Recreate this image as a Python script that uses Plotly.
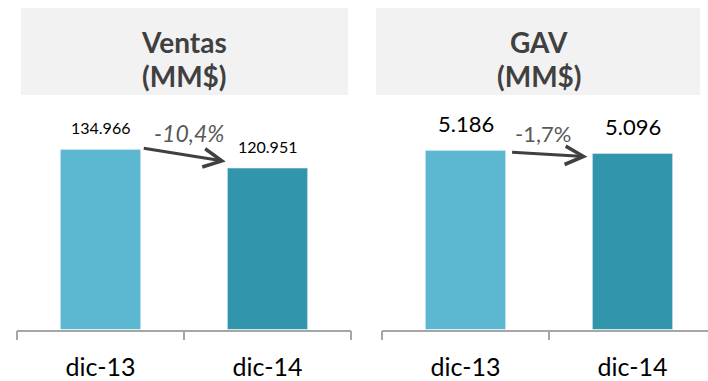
import plotly.graph_objects as go

W, H = 708, 381
categories = ["dic-13", "dic-14"]
ventas = [134.966, 120.951]
gav = [5.186, 5.096]
ventas_labels = ["134.966", "120.951"]
gav_labels = ["5.186", "5.096"]
ventas_change = "-10,4%"
gav_change = "-1,7%"
titles = ["Ventas", "GAV"]
subtitle = "(MM$)"

c_light = "#5BB8D0"
c_dark = "#3196AC"
FONT = "Lato"

def px(x):
    return x / W

def py(y):
    return 1 - y / H

fig = go.Figure()
fig.add_trace(go.Bar(x=categories, y=ventas, marker_color=[c_light, c_dark], width=0.48,
                     xaxis="x", yaxis="y", hoverinfo="skip"))
fig.add_trace(go.Bar(x=categories, y=gav, marker_color=[c_light, c_dark], width=0.48,
                     xaxis="x2", yaxis="y2", hoverinfo="skip"))

ydom = [py(333), py(100)]
axis_common = dict(showline=True, linecolor="#A6A6A6", linewidth=1.5, ticks="outside",
                   tickson="boundaries", ticklen=9, tickcolor="#A6A6A6", tickwidth=1.5,
                   ticklabelstandoff=15,
                   tickfont=dict(family=FONT, size=25, color="#000000"), showgrid=False,
                   zeroline=False, fixedrange=True)
fig.update_layout(
    width=W, height=H, margin=dict(l=0, r=0, t=0, b=0),
    paper_bgcolor="white", plot_bgcolor="white", showlegend=False,
    xaxis=dict(domain=[px(17), px(351)], range=[-0.5, 1.5], anchor="y", **axis_common),
    yaxis=dict(domain=ydom, range=[0, (333 - 100) / 1.3485], visible=False, anchor="x"),
    xaxis2=dict(domain=[px(382), 1], range=[-0.5, -0.5 + 326 / 167], anchor="y2", **axis_common),
    yaxis2=dict(domain=ydom, range=[0, (333 - 100) / 34.9], visible=False, anchor="x2"),
)

# Title boxes
for x0, x1 in [(21, 348), (376, 700)]:
    fig.add_shape(type="rect", xref="paper", yref="paper", x0=px(x0), x1=px(x1),
                  y0=py(96), y1=py(8), fillcolor="#F2F2F2", line_width=0, layer="below")

for t, cx in zip(titles, [184, 539]):
    fig.add_annotation(xref="paper", yref="paper", x=px(cx), y=py(42), text="<b>%s</b>" % t,
                       showarrow=False, font=dict(family=FONT, size=28, color="#404040"),
                       xanchor="center", yanchor="middle")
    fig.add_annotation(xref="paper", yref="paper", x=px(cx), y=py(77), text="<b>%s</b>" % subtitle,
                       showarrow=False, font=dict(family=FONT, size=28, color="#404040"),
                       xanchor="center", yanchor="middle")

# Value labels
for i, (v, lab) in enumerate(zip(ventas, ventas_labels)):
    fig.add_annotation(xref="x", yref="y", x=i, y=v, text=lab, showarrow=False,
                       font=dict(family=FONT, size=16, color="#000000"),
                       yanchor="middle", yshift=22)
for i, (v, lab) in enumerate(zip(gav, gav_labels)):
    fig.add_annotation(xref="x2", yref="y2", x=i, y=v, text=lab, showarrow=False,
                       font=dict(family=FONT, size=22, color="#000000"),
                       yanchor="middle", yshift=27)

# Arrows
fig.add_annotation(xref="x", yref="y", axref="x", ayref="y",
                   x=0.75, y=ventas[1] + 5, ax=0.25, ay=ventas[0] + 1,
                   showarrow=True, arrowhead=5, arrowsize=1.2, arrowwidth=3,
                   arrowcolor="#404040", text="")
fig.add_annotation(xref="x2", yref="y2", axref="x2", ayref="y2",
                   x=0.73, y=gav[1] - 0.09, ax=0.27, ay=gav[0] - 0.05,
                   showarrow=True, arrowhead=5, arrowsize=1.2, arrowwidth=3,
                   arrowcolor="#404040", text="")
fig.add_annotation(xref="x", yref="y", x=0.53, y=ventas[0] + 12, text="<i>%s</i>" % ventas_change,
                   showarrow=False, font=dict(family=FONT, size=23, color="#595959"),
                   yanchor="middle")
fig.add_annotation(xref="x2", yref="y2", x=0.464, y=gav[0] + 0.5, text=gav_change,
                   showarrow=False, font=dict(family=FONT, size=22, color="#595959"),
                   yanchor="middle")

fig.write_html("out.html")
